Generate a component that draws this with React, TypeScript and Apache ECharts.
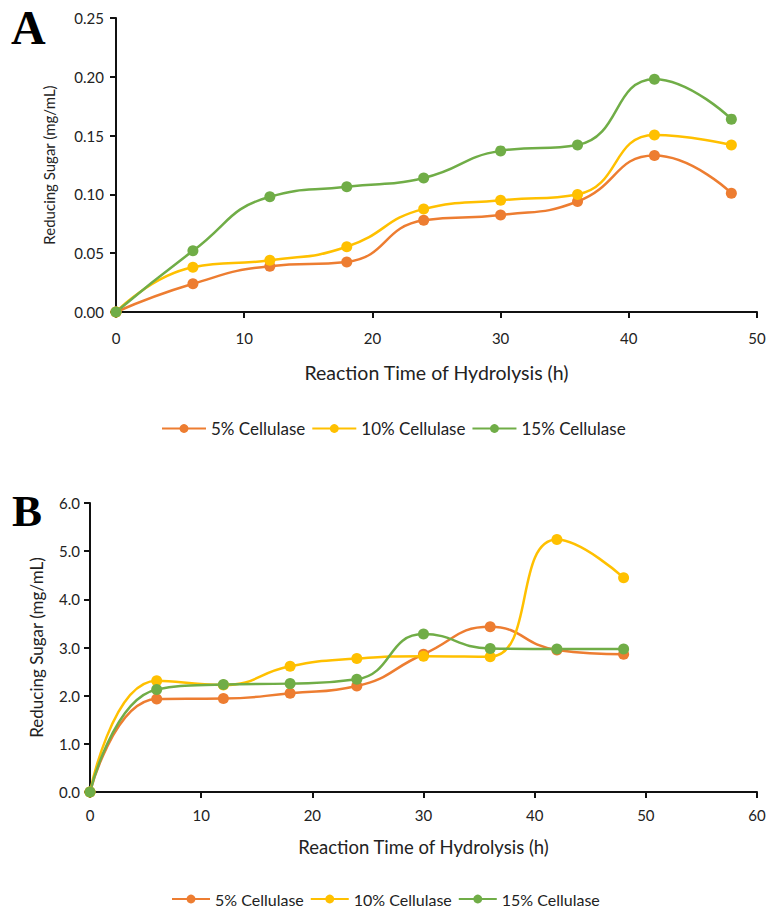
import React, { useEffect, useRef } from "react";
import * as echarts from "echarts";

const seriesNames = ["5% Cellulase", "10% Cellulase", "15% Cellulase"];
const colors = ["#ED7D31", "#FFC000", "#70AD47"];

const hoursA = [0, 6, 12, 18, 24, 30, 36, 42, 48];
const a5 = [0, 0.024, 0.039, 0.0425, 0.078, 0.0825, 0.094, 0.133, 0.101];
const a10 = [0, 0.038, 0.044, 0.0555, 0.0875, 0.095, 0.100, 0.1505, 0.142];
const a15 = [0, 0.052, 0.098, 0.1065, 0.114, 0.137, 0.142, 0.198, 0.164];

const hoursB = [0, 6, 12, 18, 24, 30, 36, 42, 48];
const b5 = [0, 1.93, 1.94, 2.05, 2.2, 2.86, 3.43, 2.95, 2.86];
const b10 = [0, 2.31, 2.22, 2.61, 2.77, 2.82, 2.81, 5.24, 4.45];
const b15 = [0, 2.13, 2.23, 2.25, 2.34, 3.28, 2.98, 2.97, 2.97];

const yTicksA = [0, 0.05, 0.1, 0.15, 0.2, 0.25];
const yTicksB = [0, 1, 2, 3, 4, 5, 6];

const FONT = "Lato";
const TXT = "#222";

function pairs(xs: number[], ys: number[]) {
  return xs.map((x, i) => [x, ys[i]]);
}

export default function App() {
  const ref = useRef<HTMLDivElement>(null);
  useEffect(() => {
    if (!ref.current) return;
    const chart = echarts.init(ref.current, null, { renderer: "svg" });
    const dataA = [a5, a10, a15];
    const dataB = [b5, b10, b15];
    const mk = (name: string, color: string, data: number[][], idx: number) => ({
      name,
      type: "line",
      xAxisIndex: idx,
      yAxisIndex: idx,
      data,
      smooth: 0.5,
      symbol: "circle",
      symbolSize: 11,
      lineStyle: { color, width: 2.5 },
      itemStyle: { color },
      emphasis: { disabled: true },
    });
    const series: any[] = [];
    seriesNames.forEach((n, i) => series.push(mk(n, colors[i], pairs(hoursA, dataA[i]), 0)));
    seriesNames.forEach((n, i) => series.push(mk(n, colors[i], pairs(hoursB, dataB[i]), 1)));

    const axisLine = { lineStyle: { color: "#111", width: 2 } };
    const axisTick = { show: true, length: 6, lineStyle: { color: "#111", width: 2 } };

    chart.setOption({
      animation: false,
      textStyle: { fontFamily: FONT },
      grid: [
        { left: 116, top: 18, width: 641, height: 294 },
        { left: 90, top: 503, width: 667, height: 289 },
      ],
      xAxis: [
        {
          type: "value", gridIndex: 0, min: 0, max: 50, interval: 10,
          splitLine: { show: false }, axisLine, axisTick,
          axisLabel: { color: TXT, fontSize: 15, margin: 18, fontFamily: FONT },
          name: "Reaction Time of Hydrolysis (h)", nameLocation: "middle", nameGap: 50,
          nameTextStyle: { color: TXT, fontSize: 19.5, fontFamily: FONT },
        },
        {
          type: "value", gridIndex: 1, min: 0, max: 60, interval: 10,
          splitLine: { show: false }, axisLine, axisTick,
          axisLabel: { color: TXT, fontSize: 15, margin: 15, fontFamily: FONT },
          name: "Reaction Time of Hydrolysis (h)", nameLocation: "middle", nameGap: 45,
          nameTextStyle: { color: TXT, fontSize: 18.5, fontFamily: FONT },
        },
      ],
      yAxis: [
        {
          type: "value", gridIndex: 0, min: yTicksA[0], max: yTicksA[yTicksA.length - 1], interval: 0.05,
          splitLine: { show: false }, axisLine: { show: true, ...axisLine }, axisTick,
          axisLabel: { color: TXT, fontSize: 15, margin: 12, fontFamily: FONT, formatter: (v: number) => v.toFixed(2) },
          name: "Reducing Sugar (mg/mL)", nameLocation: "middle", nameGap: 60,
          nameTextStyle: { color: TXT, fontSize: 15, fontFamily: FONT },
        },
        {
          type: "value", gridIndex: 1, min: yTicksB[0], max: yTicksB[yTicksB.length - 1], interval: 1,
          splitLine: { show: false }, axisLine: { show: true, ...axisLine }, axisTick,
          axisLabel: { color: TXT, fontSize: 15, margin: 10, fontFamily: FONT, formatter: (v: number) => v.toFixed(1) },
          name: "Reducing Sugar (mg/mL)", nameLocation: "middle", nameGap: 45,
          nameTextStyle: { color: TXT, fontSize: 17, fontFamily: FONT },
        },
      ],
      legend: [
        {
          data: seriesNames, left: 156, top: 415, itemWidth: 44, itemHeight: 11, itemGap: 6,
          textStyle: { color: TXT, fontSize: 17, fontFamily: FONT },
        },
        {
          data: seriesNames, left: 166, top: 886, itemWidth: 38, itemHeight: 11, itemGap: 6,
          textStyle: { color: TXT, fontSize: 16, fontFamily: FONT },
        },
      ],
      graphic: [
        { type: "text", left: 11, top: 3, style: { text: "A", font: "bold 48px 'Liberation Serif'", fill: "#000" } },
        { type: "text", left: 12, top: 488, style: { text: "B", font: "bold 45px 'Liberation Serif'", fill: "#000" } },
      ],
      series,
    });
    return () => chart.dispose();
  }, []);
  return <div ref={ref} style={{ position: "absolute", left: 0, top: 0, width: 769, height: 910 }} />;
}
